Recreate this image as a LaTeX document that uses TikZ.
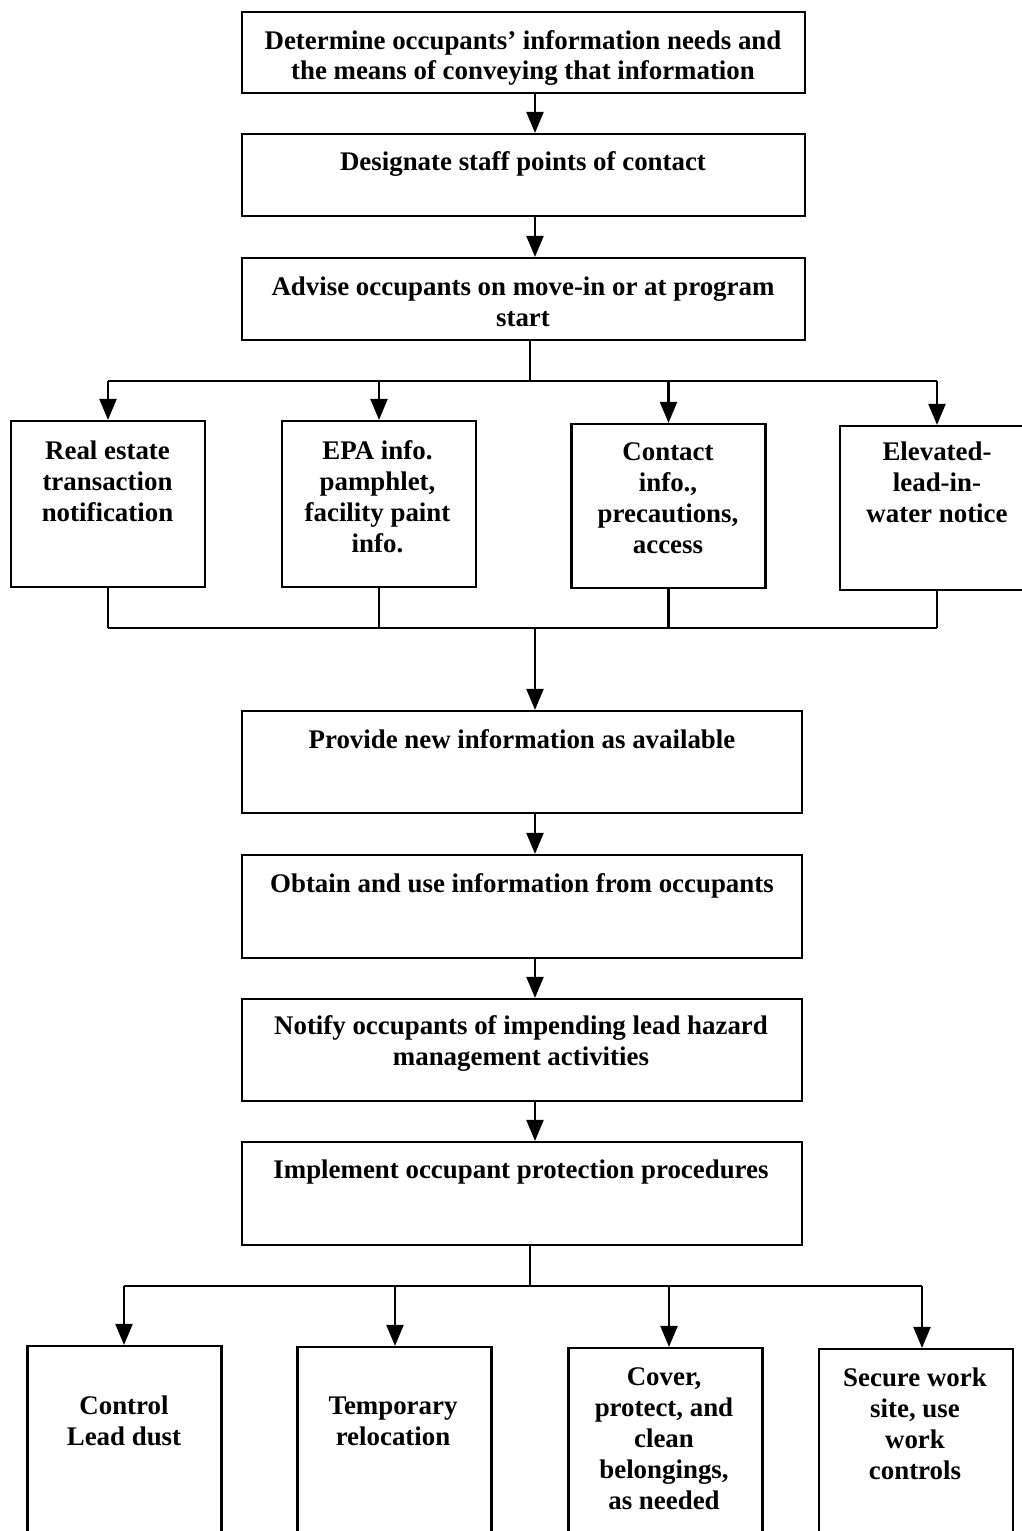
\documentclass[tikz,border=0pt]{standalone}
\usepackage{fontspec}
\setmainfont{Liberation Serif}
\usetikzlibrary{arrows.meta,calc}
\begin{document}
\begin{tikzpicture}[
  line width=1.25pt,
  box/.style={draw, rectangle, inner sep=0pt},
  wide/.style={box, minimum width=11.26cm},
  col/.style={box, minimum width=3.88cm},
  txt/.style={align=center, inner sep=0pt, font=\fontsize{15.3pt}{17.6pt}\selectfont\bfseries},
  arr/.style={-{Triangle[length=0.42cm,width=0.34cm]}},
]
\useasboundingbox (0,0) rectangle (20.44,-30.62);

% main column
\node[wide, minimum height=1.62cm] (b1) at (10.47,-1.05) {};
\node[wide, minimum height=1.64cm] (b2) at (10.47,-3.50) {};
\node[wide, minimum height=1.64cm] (b3) at (10.47,-5.98) {};
\node[box, minimum width=11.2cm, minimum height=2.04cm] (b4) at (10.44,-15.24) {};
\node[box, minimum width=11.2cm, minimum height=2.06cm] (b5) at (10.44,-18.13) {};
\node[box, minimum width=11.2cm, minimum height=2.04cm] (b6) at (10.44,-21.00) {};
\node[box, minimum width=11.2cm, minimum height=2.06cm] (b7) at (10.44,-23.87) {};

\node[txt] (t1) at (10.46,-1.16) {Determine occupants’ information needs and\\the means of conveying that information};
\node[txt] (t2) at (10.46,-3.28) {Designate staff points of contact};
\node[txt] (t3) at (10.46,-6.03) {Advise occupants on move-in or at program\\start};
\node[txt] (t4) at (10.44,-14.78) {Provide new information as available};
\node[txt] (t5) at (10.44,-17.71) {Obtain and use information from occupants};
\node[txt] (t6) at (10.42,-20.87) {Notify occupants of impending lead hazard\\management activities};
\node[txt] (t7) at (10.42,-23.45) {Implement occupant protection procedures};

% first row of branches
\node[col, minimum height=3.32cm] (mA) at (2.16,-10.08) {};
\node[col, minimum height=3.32cm] (mB) at (7.58,-10.08) {};
\node[col, minimum height=3.28cm] (mC) at (13.37,-10.12) {};
\node[col, minimum height=3.28cm] (mD) at (18.74,-10.16) {};

\node[txt] (tA) at (2.15,-9.62) {Real estate\\transaction\\notification};
\node[txt] (tB) at (7.55,-9.93) {EPA info.\\pamphlet,\\facility paint\\info.};
\node[txt] (tC) at (13.36,-9.96) {Contact\\info.,\\precautions,\\access};
\node[txt] (tD) at (18.74,-9.65) {Elevated-\\lead-in-\\water notice};

% second row of branches
\node[col, minimum height=4.08cm] (bE) at (2.49,-28.96) {};
\node[col, minimum height=4.10cm] (bF) at (7.89,-28.99) {};
\node[col, minimum height=4.08cm] (bG) at (13.31,-29.00) {};
\node[col, minimum height=4.04cm] (bH) at (18.32,-29.00) {};

\node[txt] (tE) at (2.48,-28.41) {Control\\Lead dust};
\node[txt] (tF) at (7.86,-28.43) {Temporary\\relocation};
\node[txt] (tG) at (13.28,-28.77) {Cover,\\protect, and\\clean\\belongings,\\as needed};
\node[txt] (tH) at (18.30,-28.48) {Secure work\\site, use\\work\\controls};

% spine and junctions
\coordinate (sp) at (10.70,0);
\coordinate (j1) at (10.60,-7.62);
\coordinate (j2) at (10.70,-12.56);
\coordinate (j3) at (10.60,-25.72);

\draw[arr] (b1.south -| sp) -- (b2.north -| sp);
\draw[arr] (b2.south -| sp) -- (b3.north -| sp);

% fan-out to first row
\draw (b3.south -| j1) -- (j1);
\draw (mA.north |- j1) -- (mD.north |- j1);
\foreach \n in {mA,mB,mC,mD} \draw[arr] (\n.north |- j1) -- (\n.north);

% fan-in from first row
\foreach \n in {mA,mB,mC,mD} \draw (\n.south) -- (\n.south |- j2);
\draw (mA.south |- j2) -- (mD.south |- j2);
\draw[arr] (j2) -- (b4.north -| j2);

\draw[arr] (b4.south -| sp) -- (b5.north -| sp);
\draw[arr] (b5.south -| sp) -- (b6.north -| sp);
\draw[arr] (b6.south -| sp) -- (b7.north -| sp);

% fan-out to second row
\draw (b7.south -| j3) -- (j3);
\coordinate (hE) at (2.48,-25.72);
\coordinate (hF) at (7.90,-25.72);
\coordinate (hG) at (13.38,-25.72);
\coordinate (hH) at (18.44,-25.72);
\draw (hE) -- (hH);
\draw[arr] (hE) -- (bE.north -| hE);
\draw[arr] (hF) -- (bF.north -| hF);
\draw[arr] (hG) -- (bG.north -| hG);
\draw[arr] (hH) -- (bH.north -| hH);
\end{tikzpicture}
\end{document}
